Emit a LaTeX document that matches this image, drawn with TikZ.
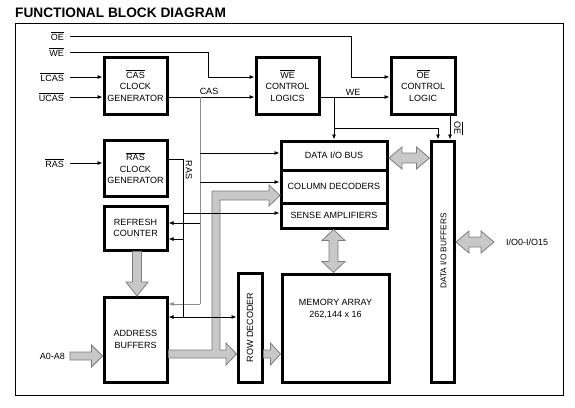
\documentclass[tikz,border=0pt]{standalone}
\usepackage{fontspec}
\setmainfont{Liberation Sans}
\usetikzlibrary{arrows.meta}
\newcommand\ovl[1]{$\overline{\hbox{#1}}$}
\definecolor{fatgray}{RGB}{200,200,200}
\definecolor{fatedge}{RGB}{125,125,125}
\definecolor{casgray}{RGB}{140,140,140}
\newcommand\fatR[6]{\filldraw[fat] (#1,#3-#4) -- (#2-#6,#3-#4) -- (#2-#6,#3-#5) -- (#2,#3) -- (#2-#6,#3+#5) -- (#2-#6,#3+#4) -- (#1,#3+#4) -- cycle;}
\newcommand\fatD[6]{\filldraw[fat] (#3-#4,#1) -- (#3-#4,#2-#6) -- (#3-#5,#2-#6) -- (#3,#2) -- (#3+#5,#2-#6) -- (#3+#4,#2-#6) -- (#3+#4,#1) -- cycle;}
\newcommand\fatH[6]{\filldraw[fat] (#1,#3) -- (#1+#6,#3-#5) -- (#1+#6,#3-#4) -- (#2-#6,#3-#4) -- (#2-#6,#3-#5) -- (#2,#3) -- (#2-#6,#3+#5) -- (#2-#6,#3+#4) -- (#1+#6,#3+#4) -- (#1+#6,#3+#5) -- cycle;}
\newcommand\fatV[6]{\filldraw[fat] (#3,#1) -- (#3-#5,#1+#6) -- (#3-#4,#1+#6) -- (#3-#4,#2-#6) -- (#3-#5,#2-#6) -- (#3,#2) -- (#3+#5,#2-#6) -- (#3+#4,#2-#6) -- (#3+#4,#1+#6) -- (#3+#5,#1+#6) -- cycle;}
\begin{document}
\begin{tikzpicture}[x=1pt,y=-1pt,
  font=\fontsize{9}{11.5}\selectfont,
  box/.style={draw, line width=3pt, align=center, inner sep=0pt},
  arr/.style={-{Latex[length=5pt,width=4pt]}, line width=0.8pt},
  thin/.style={line width=0.8pt},
  fat/.style={fill=fatgray, draw=fatedge, line width=0.8pt},
  lbl/.style={inner sep=0pt, anchor=east},
  txt/.style={inner sep=0pt}]
\useasboundingbox (0,0) rectangle (575,407);
\node[anchor=base west, inner sep=0pt, font=\fontsize{13.7}{16}\selectfont\bfseries] (title) at (15,17) {FUNCTIONAL BLOCK DIAGRAM};
\draw[thin] (15,23) rectangle (563,395);
% labels
\node[lbl] (oe) at (64,36) {\ovl{OE}};
\node[lbl] (we) at (64,52) {\ovl{WE}};
\node[lbl] (lcas) at (64,77) {\ovl{LCAS}};
\node[lbl] (ucas) at (64,97) {\ovl{UCAS}};
\node[lbl] (rasin) at (64,163) {\ovl{RAS}};
\node[lbl] (addrin) at (65,356) {A0-A8};
\node[txt, anchor=west] (io) at (506,242) {I/O0-I/O15};
% boxes
\node[box, minimum width=63pt, minimum height=57pt] (cas) at (135.5,85.5) {\ovl{CAS}\\CLOCK\\GENERATOR};
\node[box, minimum width=63pt, minimum height=56pt] (ras) at (135.5,168) {\ovl{RAS}\\CLOCK\\GENERATOR};
\node[box, minimum width=63pt, minimum height=44pt] (ref) at (135.5,228) {REFRESH\\COUNTER};
\node[box, minimum width=63pt, minimum height=85pt] (addr) at (135.5,339.5) {ADDRESS\\BUFFERS};
\node[box, minimum width=63pt, minimum height=57pt] (wec) at (287.5,85.5) {\ovl{WE}\\CONTROL\\LOGICS};
\node[box, minimum width=64pt, minimum height=57pt] (oec) at (423,85.5) {\ovl{OE}\\CONTROL\\LOGIC};
\node[box, minimum width=106pt, minimum height=29pt] (dbus) at (334,155.5) {DATA I/O BUS};
\node[box, minimum width=106pt, minimum height=33pt] (coldec) at (334,186.5) {COLUMN DECODERS};
\node[box, minimum width=106pt, minimum height=25pt] (sense) at (334,215.5) {SENSE AMPLIFIERS};
\node[box, minimum width=24pt, minimum height=109pt] (rowdec) at (250,327.5) {};
\node[txt, rotate=90] (rowdectxt) at (rowdec) {ROW DECODER};
\node[box, minimum width=107pt, minimum height=108pt] (mem) at (335.5,328) {};
\node[txt, align=center] (memtxt) at (335.5,309) {MEMORY ARRAY\\262,144 x 16};
\node[box, minimum width=23pt, minimum height=241pt] (dio) at (442.5,261.5) {};
\node[txt, rotate=90, font=\fontsize{8.3}{10}\selectfont] (diotxt) at (443.5,251) {DATA I/O BUFFERS};
% fat arrows
\fatR{70}{102.5}{356}{4}{11}{11}
\fatD{251.5}{296}{137}{4.5}{11}{14}
\filldraw[fat] (168.5,350) -- (212,350) -- (212,191) -- (269,191) -- (269,185) -- (280,195.5) -- (269,206) -- (269,200) -- (220,200) -- (220,350) -- (226,350) -- (226,343) -- (236.5,354) -- (226,365) -- (226,358) -- (168.5,358) -- cycle;
\fatR{263.5}{280.5}{354}{4}{11}{10}
\fatV{229.5}{272.5}{333.5}{4.5}{11.5}{11}
\fatH{389}{429.5}{158}{5}{11}{13}
\fatH{456}{494}{242}{5}{11}{13}
% control lines
\draw[arr] ([xshift=6pt]oe.east) -- (351,36) -- (351,77) -- (oec.west |- 0,77);
\draw[arr] ([xshift=6pt]we.east) -- (208,52) -- (208,77) -- (wec.west |- 0,77);
\draw[arr] ([xshift=6pt]lcas.east) -- (lcas.east -| cas.west);
\draw[arr] ([xshift=6pt]ucas.east) -- (ucas.east -| cas.west);
\draw[arr] (cas.east |- 0,97) -- (wec.west |- 0,97);
\node[txt] (caslbl) at (209,91) {CAS};
\draw[arr] ([xshift=6pt]rasin.east) -- (rasin.east -| ras.west);
% CAS distribution
\coordinate (c1) at (200,97);
\coordinate (c2) at (200,304);
\draw[thin, casgray] (c1) -- (c2);
\draw[arr, casgray] (c2) -- (c2 -| addr.east);
\draw[arr] (200,153) -- (dbus.west |- 0,153);
\draw[arr] (200,182) -- (coldec.west |- 0,182);
\draw[arr] (200,223) -- (ref.east |- 0,223);
% RAS distribution
\coordinate (r1) at (183,159);
\coordinate (r2) at (183,317);
\draw[thin] (ras.east |- r1) -- (r1) -- (r2);
\draw[arr] (r2) -- (r2 -| addr.east);
\draw[arr] (r2) -- (r2 -| rowdec.west);
\draw[arr] (183,213) -- (sense.west |- 0,213);
\draw[arr] (183,239) -- (ref.east |- 0,239);
\node[txt, rotate=-90] (raslbl) at (189,170) {RAS};
% WE / OE distribution
\draw[arr] (wec.east |- 0,97) -- (oec.west |- 0,97);
\node[txt] (welbl) at (353,92) {WE};
\draw[arr] (334,97) -- (334,0 |- dbus.north);
\draw[arr] (334,128) -- (438,128) -- (438,0 |- dio.north);
\draw[arr] (450,0 |- oec.south) -- (450,0 |- dio.north);
\node[txt, rotate=-90] (oelbl) at (458.5,128) {\ovl{OE}};
\end{tikzpicture}
\end{document}
